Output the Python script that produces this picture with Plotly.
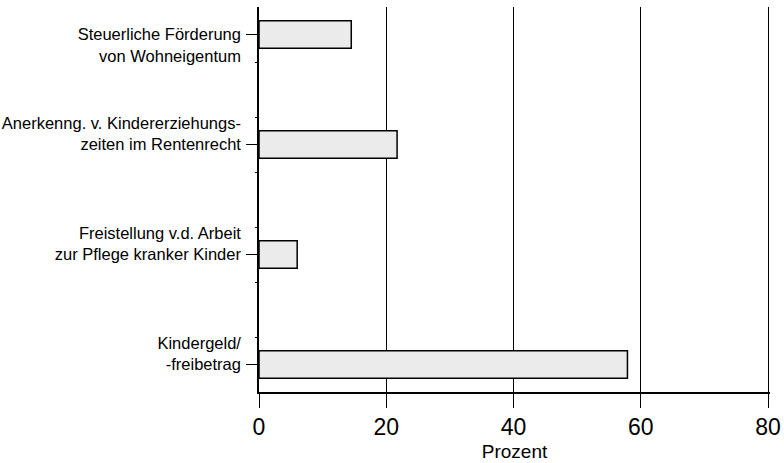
import plotly.graph_objects as go

categories = [
    "Steuerliche Förderung<br>von Wohneigentum",
    "Anerkenng. v. Kindererziehungs-<br>zeiten im Rentenrecht",
    "Freistellung v.d. Arbeit<br>zur Pflege kranker Kinder",
    "Kindergeld/<br>-freibetrag",
]
# padded tick texts so the right line sits at the tick (as in the reference)
tick_text = [
    " <br>Steuerliche Förderung<br>von Wohneigentum",
    "Anerkenng. v. Kindererziehungs-<br>zeiten im Rentenrecht<br> ",
    "Freistellung v.d. Arbeit<br>zur Pflege kranker Kinder<br> ",
    "Kindergeld/<br>-freibetrag<br> ",
]
values = [14.5, 21.7, 6.0, 57.9]
positions = [0, 1, 2, 3]
x_ticks = [0, 20, 40, 60, 80]

fig = go.Figure(
    go.Bar(
        x=values,
        y=positions,
        orientation="h",
        width=0.25,
        marker=dict(color="#ebebeb", line=dict(color="black", width=1.5)),
        hoverinfo="skip",
    )
)

fig.update_layout(
    width=784,
    height=463,
    margin=dict(l=259, r=14, t=7, b=71),
    paper_bgcolor="white",
    plot_bgcolor="white",
    showlegend=False,
    font=dict(family="Liberation Sans, Arial, sans-serif", color="black"),
)

fig.update_xaxes(
    range=[0, 80.3],
    tickvals=x_ticks,
    ticks="outside",
    ticklen=14,
    tickwidth=1.2,
    tickcolor="black",
    showline=True,
    linecolor="black",
    linewidth=1.5,
    showgrid=True,
    gridcolor="black",
    gridwidth=1.2,
    zeroline=False,
    automargin=False,
    tickfont=dict(size=23),
    title=dict(text="Prozent", font=dict(size=19), standoff=5),
)

fig.update_yaxes(
    range=[3.25, -0.25],
    tickvals=positions,
    ticktext=tick_text,
    ticks="outside",
    ticklen=11,
    tickwidth=1.2,
    tickcolor="black",
    showline=True,
    linecolor="black",
    linewidth=1.5,
    showgrid=False,
    zeroline=False,
    automargin=False,
    tickfont=dict(size=16.5),
    ticklabelstandoff=2,
    minor=dict(tickvals=[0.25, 0.75, 1.25, 1.75, 2.25, 2.75], ticks="outside",
               ticklen=2, tickwidth=1, tickcolor="black"),
)

fig.write_html(
    "out.html",
    config={"displayModeBar": False},
    post_script="document.body.style.margin='0';document.body.style.overflow='hidden';",
)
